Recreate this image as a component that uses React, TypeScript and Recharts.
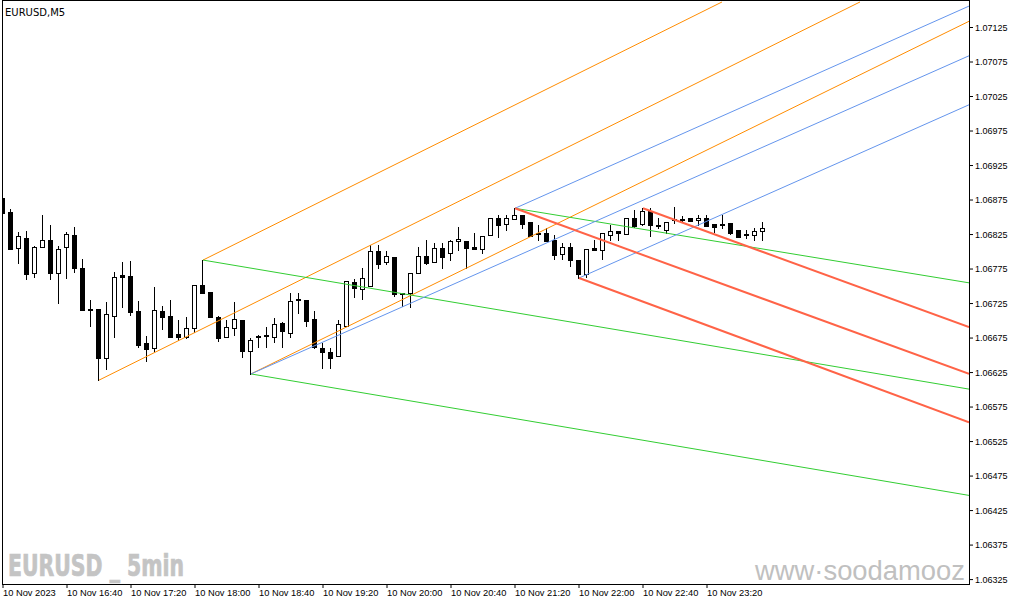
import React from "react";
import { ComposedChart, Bar, XAxis, YAxis, ReferenceLine } from "recharts";

// EURUSD M5, 10 Nov 2023 16:00 .. 23:55 (96 bars)
const opens = [
  1.06878, 1.06858, 1.06805, 1.0682, 1.06769, 1.06807, 1.06817, 1.06769, 1.06807, 1.06824,
  1.06776, 1.06717, 1.06717, 1.06646, 1.06707, 1.06766, 1.06765, 1.06714, 1.06668, 1.06661,
  1.06714, 1.06707, 1.06681, 1.06676, 1.0669, 1.06752, 1.06742, 1.06705, 1.06676, 1.0669,
  1.06701, 1.06656, 1.06678, 1.06678, 1.06676, 1.06697, 1.06682, 1.06732, 1.0673, 1.06703,
  1.06661, 1.06655, 1.06649, 1.06692, 1.06756, 1.06746, 1.0675, 1.06801, 1.06785, 1.06792,
  1.06739, 1.0674, 1.06769, 1.06794, 1.06785, 1.06805, 1.06798, 1.06816, 1.06816, 1.06807,
  1.06804, 1.06824, 1.06849, 1.0684, 1.06847, 1.06853, 1.06843, 1.06827, 1.06827, 1.06817,
  1.06797, 1.06807, 1.06788, 1.06768, 1.06805, 1.06803, 1.06824, 1.0683, 1.06826, 1.06849,
  1.0684, 1.06859, 1.06839, 1.06832, 1.06846, 1.06847, 1.06849, 1.06846, 1.06849, 1.0684,
  1.0684, 1.06842, 1.06832, 1.06826, 1.06824, 1.0683,
];
const highs = [
  1.06888, 1.06862, 1.06829, 1.0683, 1.06808, 1.06853, 1.06839, 1.06808, 1.06829, 1.06836,
  1.0679, 1.0673, 1.06717, 1.06727, 1.06771, 1.06785, 1.06787, 1.06729, 1.06678, 1.06749,
  1.06721, 1.0673, 1.06701, 1.06705, 1.06752, 1.06788, 1.06742, 1.06707, 1.06701, 1.06727,
  1.06701, 1.06675, 1.06679, 1.06691, 1.06704, 1.06698, 1.0674, 1.0674, 1.0673, 1.06714,
  1.06668, 1.06661, 1.06701, 1.06758, 1.06761, 1.06776, 1.0681, 1.0681, 1.06801, 1.06792,
  1.06741, 1.06769, 1.06807, 1.06817, 1.06813, 1.06813, 1.06817, 1.06836, 1.06816, 1.06827,
  1.06823, 1.06849, 1.06853, 1.06853, 1.06863, 1.06853, 1.06843, 1.06839, 1.06834, 1.06824,
  1.06813, 1.06813, 1.06788, 1.06804, 1.06817, 1.06827, 1.06839, 1.0683, 1.06849, 1.06861,
  1.06863, 1.06863, 1.06849, 1.06843, 1.06865, 1.06852, 1.06849, 1.06853, 1.06853, 1.0684,
  1.06853, 1.06842, 1.06832, 1.06832, 1.06834, 1.06843,
];
const lows = [
  1.06843, 1.06804, 1.06784, 1.0676, 1.06763, 1.06807, 1.0676, 1.06726, 1.06762, 1.06771,
  1.06716, 1.06692, 1.06614, 1.0663, 1.06676, 1.0672, 1.06708, 1.06662, 1.06642, 1.06656,
  1.06688, 1.06676, 1.06672, 1.06675, 1.06684, 1.0674, 1.06705, 1.06671, 1.06676, 1.06679,
  1.06648, 1.06623, 1.06662, 1.06662, 1.06669, 1.06662, 1.06676, 1.06711, 1.06692, 1.06661,
  1.06632, 1.06632, 1.06649, 1.06692, 1.06734, 1.06732, 1.0675, 1.06776, 1.06782, 1.06736,
  1.06721, 1.0672, 1.06769, 1.06782, 1.06785, 1.06776, 1.06788, 1.06803, 1.06776, 1.06804,
  1.06798, 1.06824, 1.06821, 1.06832, 1.06847, 1.06834, 1.06823, 1.06817, 1.06816, 1.0679,
  1.0679, 1.06779, 1.06762, 1.06763, 1.06803, 1.0679, 1.06817, 1.06817, 1.06826, 1.06836,
  1.06839, 1.06823, 1.06834, 1.06827, 1.06842, 1.06843, 1.06845, 1.06839, 1.06837, 1.06829,
  1.06834, 1.06826, 1.06821, 1.0682, 1.06817, 1.06817,
];
const closes = [
  1.06856, 1.06804, 1.06823, 1.06768, 1.06807, 1.06817, 1.06769, 1.06804, 1.06826, 1.06776,
  1.06716, 1.06716, 1.06646, 1.0671, 1.06763, 1.06764, 1.06713, 1.06665, 1.06659, 1.06716,
  1.06705, 1.06676, 1.06676, 1.0669, 1.06752, 1.0674, 1.06705, 1.06675, 1.06691, 1.06703,
  1.06656, 1.06672, 1.06677, 1.06679, 1.06695, 1.06685, 1.06729, 1.0673, 1.067, 1.06662,
  1.06655, 1.06646, 1.06695, 1.06758, 1.06747, 1.06762, 1.06801, 1.06782, 1.06794, 1.06739,
  1.0674, 1.06769, 1.06794, 1.06784, 1.06805, 1.06792, 1.06816, 1.06818, 1.06805, 1.06804,
  1.06823, 1.06849, 1.06839, 1.06849, 1.06853, 1.0684, 1.06823, 1.06826, 1.06816, 1.06795,
  1.06807, 1.06788, 1.06768, 1.06804, 1.06803, 1.06827, 1.0683, 1.06827, 1.06849, 1.06837,
  1.06859, 1.06839, 1.06838, 1.06843, 1.06848, 1.06846, 1.06845, 1.06849, 1.06837, 1.06836,
  1.06839, 1.06827, 1.06821, 1.06825, 1.0683, 1.06834,
];

const timeLabels = [
  "10 Nov 2023", "10 Nov 16:40", "10 Nov 17:20", "10 Nov 18:00", "10 Nov 18:40", "10 Nov 19:20",
  "10 Nov 20:00", "10 Nov 20:40", "10 Nov 21:20", "10 Nov 22:00", "10 Nov 22:40", "10 Nov 23:20",
];
const timeTicks = [0, 8, 16, 24, 32, 40, 48, 56, 64, 72, 80, 88];
const priceTicks = [
  1.06325, 1.06375, 1.06425, 1.06475, 1.06525, 1.06575, 1.06625, 1.06675, 1.06725,
  1.06775, 1.06825, 1.06875, 1.06925, 1.06975, 1.07025, 1.07075, 1.07125,
];

// pitchfork tines: [bar1, price1, bar2, price2]
const orangeFork = [
  [12, 1.06614, 107.125, 1.07162],
  [25, 1.06788, 89.875, 1.07162],
  [31, 1.06623, 120.75, 1.07134],
];
const greenFork = [
  [25, 1.06788, 120.75, 1.06601],
  [31, 1.06623, 120.75, 1.06447],
  [64, 1.06863, 120.75, 1.06755],
];
const blueFork = [
  [31, 1.06623, 120.75, 1.07084],
  [64, 1.06863, 120.75, 1.07156],
  [72, 1.06762, 120.75, 1.07013],
];
const redFork = [
  [64, 1.06863, 120.75, 1.06623],
  [72, 1.06762, 120.75, 1.06553],
  [80, 1.06863, 120.75, 1.06691],
];

const candles = opens.map((open, i) => ({
  i,
  open,
  high: highs[i],
  low: lows[i],
  close: closes[i],
}));

const forks = [
  { lines: orangeFork, color: "#ff8c00", width: 1 },
  { lines: greenFork, color: "#32cd32", width: 1 },
  { lines: blueFork, color: "#6495ed", width: 1 },
  { lines: redFork, color: "#ff6347", width: 2 },
];

function Candle(props: any) {
  const { x, y, width, height, payload } = props;
  if (!payload) return null;
  const top = Math.min(y, y + height);
  const h = Math.abs(height);
  const span = payload.high - payload.low;
  const toY = (v: number) => (span > 0 ? top + ((payload.high - v) / span) * h : top);
  const cx = Math.floor(x + width / 2) + 0.5;
  const bodyTop = Math.round(toY(Math.max(payload.open, payload.close))) + 0.5;
  const bodyBot = Math.round(toY(Math.min(payload.open, payload.close))) + 0.5;
  const bull = payload.close > payload.open;
  return (
    <g shapeRendering="crispEdges">
      <line x1={cx} x2={cx} y1={Math.round(toY(payload.high))} y2={Math.round(toY(payload.low)) + 1} stroke="#000" />
      {bodyBot - bodyTop < 1 ? (
        <line x1={cx - 2.5} x2={cx + 2.5} y1={bodyTop} y2={bodyTop} stroke="#000" />
      ) : (
        <rect
          x={cx - 2}
          y={bodyTop}
          width={4}
          height={bodyBot - bodyTop}
          fill={bull ? "#fff" : "#000"}
          stroke="#000"
        />
      )}
    </g>
  );
}

function TimeTick(props: any) {
  const { x, y, index } = props;
  return (
    <text x={x} y={y} dy={6} textAnchor="start" fontSize={9.3} fill="#000" fontFamily="'Liberation Sans', Arial, sans-serif">
      {timeLabels[index]}
    </text>
  );
}

export default function App() {
  return (
    <div style={{ position: "absolute", left: 0, top: 0, width: 1015, height: 605, background: "#fff" }}>
      <ComposedChart width={1015} height={605} data={candles} margin={{ top: 1, right: 0, bottom: 0, left: 2 }}>
        <XAxis
          dataKey="i"
          type="number"
          domain={[-0.125, 120.75]}
          allowDataOverflow
          ticks={timeTicks}
          interval={0}
          height={21}
          axisLine={false}
          tickLine={{ stroke: "#000" }}
          tickSize={4}
          tick={<TimeTick />}
        />
        <YAxis
          orientation="right"
          type="number"
          domain={[1.063186, 1.071634]}
          allowDataOverflow
          ticks={priceTicks}
          interval={0}
          width={46}
          axisLine={false}
          tickLine={{ stroke: "#000" }}
          tickSize={4}
          tickMargin={2}
          tickFormatter={(v: number) => v.toFixed(5)}
          tick={{ fontSize: 9, fill: "#000", fontFamily: "'Liberation Sans', Arial, sans-serif" }}
        />
        <Bar
          dataKey={(d: any) => [d.low, d.high]}
          barSize={5}
          shape={<Candle />}
          isAnimationActive={false}
        />
        {forks.map((f, k) =>
          f.lines.map((l, j) => (
            <ReferenceLine
              key={`${k}-${j}`}
              segment={[
                { x: l[0], y: l[1] },
                { x: l[2], y: l[3] },
              ]}
              stroke={f.color}
              strokeWidth={f.width}
              ifOverflow="hidden"
            />
          ))
        )}
      </ComposedChart>
      <svg
        width={1015}
        height={605}
        style={{ position: "absolute", left: 0, top: 0, pointerEvents: "none" }}
      >
        <rect x={2.5} y={0.5} width={967} height={584} fill="none" stroke="#000" shapeRendering="crispEdges" />
        <text x={5} y={16} fontSize={10} fill="#000" fontFamily="'DejaVu Sans', sans-serif">
          EURUSD,M5
        </text>
        <text
          x={8}
          y={576}
          fontSize={30}
          fontWeight="bold"
          fill="#c4c4c4"
          stroke="#c4c4c4"
          strokeWidth={0.7}
          textLength={176}
          lengthAdjust="spacingAndGlyphs"
          fontFamily="'Liberation Sans Narrow', 'DejaVu Sans Condensed', sans-serif"
        >
          EURUSD _ 5min
        </text>
        <text
          x={755}
          y={580}
          fontSize={27}
          fill="#c0c0c0"
          textLength={210}
          lengthAdjust="spacingAndGlyphs"
          fontFamily="'Liberation Sans', Arial, sans-serif"
        >
          www·soodamooz
        </text>
      </svg>
    </div>
  );
}
